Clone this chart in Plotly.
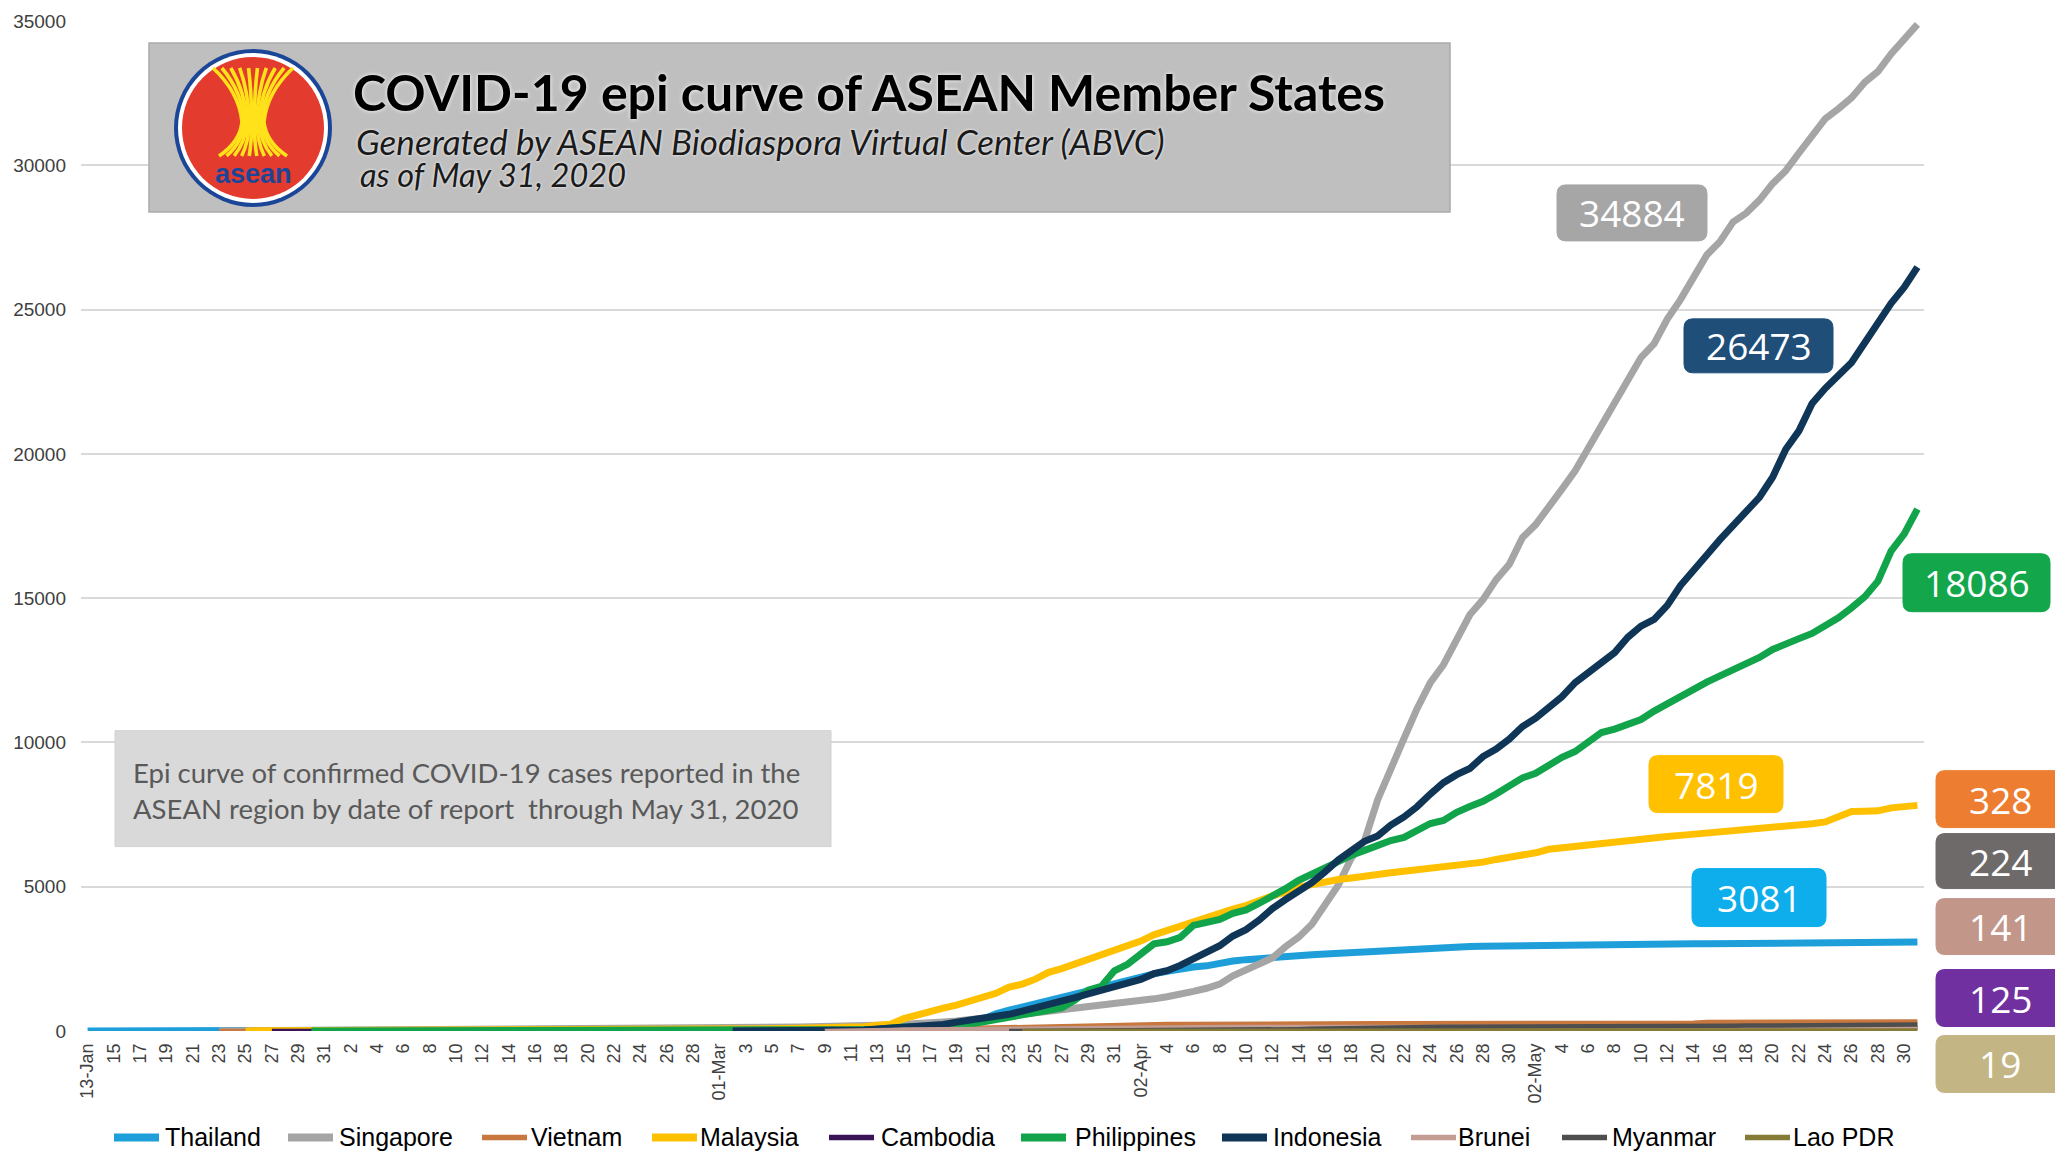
import plotly.graph_objects as go
import pandas as pd

W, H = 2055, 1154
L_PX, R_PX, T_PX, B_PX = 81, 1924, 21, 1031.5

dates = pd.date_range("2020-01-13", "2020-05-31", freq="D")
month_label_dates = ["2020-01-13", "2020-03-01", "2020-04-02", "2020-05-02"]

N = None
thailand = [
    1, 1, 1, 1, 2, 2, 2, 2, 2, 4, 4, 5, 7, 8, 8, 14, 14, 14, 19,
    19, 19, 19, 25, 25, 25, 25, 32, 32, 32, 33, 33, 33, 33, 34, 34, 35, 35, 35, 35, 35, 35, 35, 35, 37, 40, 40, 41, 42,
    42, 43, 43, 43, 47, 48, 50, 50, 50, 53, 59, 70, 75, 82, 114, 147, 177, 212, 272, 322, 411, 599, 721, 827, 934, 1045, 1136, 1245, 1388, 1524, 1651,
    1771, 1875, 1978, 2067, 2169, 2220, 2258, 2369, 2423, 2473, 2518, 2551, 2579, 2613, 2643, 2672, 2700, 2733, 2765, 2792, 2811, 2826, 2839, 2854, 2907, 2922, 2931, 2938, 2947, 2954,
    2960, 2966, 2969, 2987, 2988, 2989, 2992, 3000, 3004, 3009, 3015, 3017, 3018, 3025, 3025, 3025, 3026, 3027, 3031, 3033, 3037, 3037, 3040, 3042, 3042, 3045, 3054, 3065, 3076, 3077, 3081,
]
singapore = [N] * 10 + [
    1, 3, 3, 4, 5, 7, 7, 10, 13,
    16, 18, 18, 24, 28, 28, 30, 33, 40, 45, 47, 50, 58, 67, 72, 75, 77, 81, 84, 84, 85, 89, 89, 89, 91, 93, 96, 98, 102,
    106, 108, 110, 110, 117, 130, 138, 150, 150, 160, 178, 178, 200, 212, 226, 243, 266, 313, 345, 385, 432, 455, 509, 558, 631, 683, 732, 802, 844, 879, 926,
    1000, 1049, 1114, 1189, 1309, 1375, 1481, 1623, 1910, 2108, 2299, 2532, 2918, 3252, 3699, 4427, 5050, 5992, 6588, 8014, 9125, 10141, 11178, 12075, 12693, 13624, 14423, 14951, 15641, 16169,
    17101, 17548, 18205, 18778, 19410, 20198, 20939, 21707, 22460, 23336, 23822, 24671, 25346, 26098, 26891, 27356, 28038, 28343, 28794, 29364, 29812, 30426, 31068, 31616, 31960, 32343, 32876, 33249, 33860, 34366, 34884,
]
vietnam = [N] * 10 + [
    2, 2, 2, 2, 2, 2, 2, 2, 2,
    6, 8, 8, 10, 10, 12, 13, 13, 14, 15, 15, 15, 16, 16, 16, 16, 16, 16, 16, 16, 16, 16, 16, 16, 16, 16, 16, 16, 16,
    16, 16, 16, 16, 16, 17, 18, 30, 31, 35, 38, 39, 47, 53, 56, 61, 66, 75, 85, 91, 94, 113, 123, 134, 141, 153, 163, 174, 188, 203, 212,
    218, 233, 237, 240, 241, 245, 249, 251, 255, 257, 258, 262, 265, 265, 267, 268, 268, 268, 268, 268, 268, 268, 268, 268, 270, 270, 270, 270, 270, 270,
    270, 271, 271, 271, 271, 271, 288, 288, 288, 288, 288, 288, 288, 288, 312, 314, 318, 320, 324, 324, 324, 324, 325, 325, 325, 326, 327, 327, 328, 328, 328,
]
malaysia = [N] * 12 + [
    3, 4, 4, 4, 7, 8, 8,
    8, 8, 8, 10, 12, 12, 14, 16, 16, 18, 18, 18, 19, 19, 22, 22, 22, 22, 22, 22, 22, 22, 22, 22, 22, 22, 23, 25, 25,
    29, 29, 36, 50, 50, 83, 93, 99, 117, 129, 149, 149, 197, 238, 428, 566, 673, 790, 900, 1030, 1183, 1306, 1518, 1624, 1796, 2031, 2161, 2320, 2470, 2626, 2766,
    2908, 3116, 3333, 3483, 3662, 3793, 3963, 4119, 4228, 4346, 4530, 4683, 4817, 4987, 5072, 5182, 5251, 5305, 5389, 5425, 5482, 5532, 5603, 5691, 5742, 5780, 5820, 5851, 5945, 6002,
    6071, 6176, 6298, 6353, 6383, 6428, 6467, 6535, 6589, 6656, 6726, 6742, 6779, 6819, 6855, 6872, 6894, 6941, 6978, 7009, 7059, 7137, 7185, 7245, 7417, 7604, 7619, 7629, 7732, 7762, 7819,
]
cambodia = [N] * 14 + [
    1, 1, 1, 1, 1,
    1, 1, 1, 1, 1, 1, 1, 1, 1, 1, 1, 1, 1, 1, 1, 1, 1, 1, 1, 1, 1, 1, 1, 1, 1, 1, 1, 1, 1,
    1, 1, 1, 1, 1, 1, 2, 2, 2, 3, 3, 5, 5, 7, 12, 24, 33, 35, 37, 51, 53, 84, 87, 91, 96, 96, 99, 103, 103, 107, 109,
    109, 110, 114, 114, 114, 115, 117, 117, 117, 119, 120, 120, 122, 122, 122, 122, 122, 122, 122, 122, 122, 122, 122, 122, 122, 122, 122, 122, 122, 122,
    122, 122, 122, 122, 122, 122, 122, 122, 122, 122, 122, 122, 122, 122, 122, 122, 122, 122, 122, 124, 124, 124, 124, 124, 124, 124, 124, 124, 124, 124, 125,
]
philippines = [N] * 17 + [
    1, 1,
    1, 2, 2, 2, 3, 3, 3, 3, 3, 3, 3, 3, 3, 3, 3, 3, 3, 3, 3, 3, 3, 3, 3, 3, 3, 3, 3, 3, 3,
    3, 3, 3, 3, 3, 5, 6, 10, 20, 33, 49, 52, 64, 111, 140, 142, 187, 202, 217, 230, 307, 380, 462, 552, 636, 707, 803, 1075, 1418, 1546, 2084,
    2311, 2633, 3018, 3094, 3246, 3660, 3764, 3870, 4076, 4195, 4428, 4648, 4932, 5223, 5453, 5660, 5878, 6087, 6259, 6459, 6599, 6710, 6981, 7192, 7294, 7579, 7777, 7958, 8212, 8488,
    8772, 8928, 9223, 9485, 9684, 10004, 10343, 10463, 10610, 10794, 11086, 11350, 11618, 11876, 12091, 12305, 12513, 12718, 12942, 13221, 13434, 13597, 13777, 14035, 14319, 14669, 15049, 15588, 16634, 17224, 18086,
]
indonesia = [N] * 49 + [
    2, 2, 2, 2, 4, 4, 6, 19, 27, 34, 34, 69, 96, 117, 134, 172, 227, 309, 369, 450, 514, 579, 686, 790, 893, 1046, 1155, 1285, 1414, 1528,
    1677, 1790, 1986, 2092, 2273, 2491, 2738, 2956, 3293, 3512, 3842, 4241, 4557, 4839, 5136, 5516, 5923, 6248, 6575, 6760, 7135, 7418, 7775, 8211, 8607, 8882, 9096, 9511, 9771, 10118,
    10551, 10843, 11192, 11587, 12071, 12438, 12776, 13112, 13645, 14032, 14265, 14749, 15438, 16006, 16496, 17025, 17514, 18010, 18496, 19189, 20162, 20796, 21745, 22271, 22750, 23165, 23851, 24538, 25216, 25773, 26473,
]
brunei = [N] * 56 + [
    1, 1, 6, 11, 25, 37, 50, 54, 56, 68, 73, 78, 83, 88, 91, 104, 109, 114, 115, 120, 126, 127, 129,
    131, 133, 134, 135, 135, 135, 135, 135, 135, 136, 136, 136, 136, 136, 136, 136, 136, 137, 138, 138, 138, 138, 138, 138, 138, 138, 138, 138, 138, 138,
    138, 138, 138, 138, 138, 138, 138, 138, 138, 138, 138, 141, 141, 141, 141, 141, 141, 141, 141, 141, 141, 141, 141, 141, 141, 141, 141, 141, 141, 141, 141,
]
myanmar = [N] * 70 + [
    2, 3, 3, 5, 8, 8, 10, 14, 15,
    15, 20, 20, 21, 21, 22, 22, 22, 23, 27, 28, 39, 41, 62, 74, 85, 88, 98, 111, 119, 121, 127, 139, 144, 144, 146, 146, 146, 150, 151,
    151, 155, 161, 161, 161, 161, 171, 176, 177, 178, 180, 180, 181, 182, 182, 184, 184, 187, 191, 193, 199, 199, 201, 201, 201, 203, 206, 206, 207, 224, 224,
]
lao = [N] * 71 + [
    2, 3, 6, 6, 8, 8, 9, 10,
    10, 10, 11, 11, 12, 12, 15, 16, 16, 16, 19, 19, 19, 19, 19, 19, 19, 19, 19, 19, 19, 19, 19, 19, 19, 19, 19, 19, 19, 19,
    19, 19, 19, 19, 19, 19, 19, 19, 19, 19, 19, 19, 19, 19, 19, 19, 19, 19, 19, 19, 19, 19, 19, 19, 19, 19, 19, 19, 19, 19, 19,
]

countries = ["Thailand", "Singapore", "Vietnam", "Malaysia", "Cambodia",
             "Philippines", "Indonesia", "Brunei", "Myanmar", "Lao PDR"]
series = [thailand, singapore, vietnam, malaysia, cambodia,
          philippines, indonesia, brunei, myanmar, lao]
line_colors = ["#1F9FDA", "#A5A5A5", "#C8773E", "#FFC000", "#3A1457",
               "#12A44A", "#0F3557", "#C39D93", "#4E4E4E", "#857A36"]
line_widths = [7, 7, 4.5, 7, 4.5, 7, 7, 4.5, 4.5, 4.5]

final_labels = ["34884", "26473", "18086", "7819", "3081", "328", "224", "141", "125", "19"]
label_colors = ["#A6A6A6", "#1F4E79", "#13A64B", "#FFC000", "#0DAEEB",
                "#ED7D31", "#6F6A6A", "#C3968A", "#7030A0", "#C4B584"]

for s in series:
    assert len(s) == len(dates), len(s)


def px(x):
    return (x - L_PX) / (R_PX - L_PX)


def py(y):
    return (B_PX - y) / (B_PX - T_PX)


def rrect(x0, x1, y0, y1, r):
    pts = [
        f"M {px(x0 + r)},{py(y0)}",
        f"L {px(x1 - r)},{py(y0)}",
        f"Q {px(x1)},{py(y0)} {px(x1)},{py(y0 + r)}",
        f"L {px(x1)},{py(y1 - r)}",
        f"Q {px(x1)},{py(y1)} {px(x1 - r)},{py(y1)}",
        f"L {px(x0 + r)},{py(y1)}",
        f"Q {px(x0)},{py(y1)} {px(x0)},{py(y1 - r)}",
        f"L {px(x0)},{py(y0 + r)}",
        f"Q {px(x0)},{py(y0)} {px(x0 + r)},{py(y0)}",
        "Z",
    ]
    return " ".join(pts)


x_idx = list(range(len(dates)))
fig = go.Figure()
for name, s, c, w in zip(countries, series, line_colors, line_widths):
    fig.add_trace(go.Scatter(x=x_idx, y=s, mode="lines", name=name, showlegend=False,
                             line=dict(color=c, width=w), connectgaps=False))

# tick labels every 2 days
month_set = set(pd.to_datetime(month_label_dates))
tickvals, ticktext = [], []
for i in range(0, len(dates), 2):
    d = dates[i]
    tickvals.append(i)
    ticktext.append(d.strftime("%d-%b") if d in month_set else str(d.day))

shapes = []
annotations = []


def text(x, y, t, size, color, family="Liberation Sans", xanchor="center", align="center", **kw):
    annotations.append(dict(xref="paper", yref="paper", x=px(x), y=py(y), text=t,
                            showarrow=False, xanchor=xanchor, yanchor="middle", align=align,
                            font=dict(family=family, size=size, color=color, **kw)))


# title box
shapes.append(dict(type="rect", xref="paper", yref="paper",
                   x0=px(149), x1=px(1450), y0=py(212), y1=py(43),
                   fillcolor="#BFBFBF", line=dict(color="#ABABAB", width=1.5), layer="above"))
# note box
shapes.append(dict(type="rect", xref="paper", yref="paper",
                   x0=px(115), x1=px(831), y0=py(847), y1=py(731),
                   fillcolor="#D9D9D9", line=dict(color="#D2D2D2", width=1), layer="above"))

# ASEAN logo
cx, cy = 253, 128
for r, col in [(79, "#1B4698"), (75, "#FFFFFF"), (71, "#E33B2E")]:
    shapes.append(dict(type="circle", xref="paper", yref="paper",
                       x0=px(cx - r), x1=px(cx + r), y0=py(cy + r), y1=py(cy - r),
                       fillcolor=col, line=dict(width=0), layer="above"))
y_top, y_waist, y_bot = cy - 60, cy - 6, cy + 28
for k in range(10):
    t = (k - 4.5) / 4.5
    path = (f"M {px(cx + t * 40)},{py(y_top)} "
            f"Q {px(cx + t * 14)},{py(y_waist - 30)} {px(cx + t * 11)},{py(y_waist)} "
            f"Q {px(cx + t * 13)},{py(y_waist + 20)} {px(cx + t * 34)},{py(y_bot)}")
    shapes.append(dict(type="path", xref="paper", yref="paper", path=path,
                       line=dict(color="#FFE21A", width=3.6), layer="above"))
text(cx, cy + 46, "<b>asean</b>", 27, "#1B4698", family="Liberation Sans")

# title texts
text(351, 92, "<b>COVID-19 epi curve of ASEAN Member States</b>", 50, "#000000",
     family="Lato", xanchor="left", shadow="0px 0px 4px #FFFFFF")
text(354, 141, "<i>Generated by ASEAN Biodiaspora Virtual Center (ABVC)</i>", 35, "#1A1A1A",
     family="Lato", xanchor="left", shadow="0px 0px 3px #FFFFFF")
text(358, 175, "<i>as of May 31, 2020</i>", 32.5, "#1A1A1A",
     family="Lato", xanchor="left", shadow="0px 0px 3px #FFFFFF")
# note text
text(131, 791, "Epi curve of confirmed COVID-19 cases reported in the<br>ASEAN region by date of report  through May 31, 2020",
     27.5, "#595959", family="Lato", xanchor="left", align="left")

# final value label boxes
boxes = [(1557, 1707, 185, 241), (1684, 1833, 319, 373), (1903, 2050, 554, 612),
         (1649, 1783, 756, 813), (1692, 1826, 869, 927), (1936, 2068, 771, 828),
         (1936, 2068, 834, 889), (1936, 2068, 899, 955), (1936, 2068, 970, 1027),
         (1936, 2068, 1036, 1093)]
for (x0, x1, y0, y1), txt, col in zip(boxes, final_labels, label_colors):
    shapes.append(dict(type="path", xref="paper", yref="paper", path=rrect(x0, x1, y0, y1, 9),
                       fillcolor=col, line=dict(color=col, width=1), layer="above"))
    tx = (x0 + x1) / 2 if x1 < 2055 else 2000
    text(tx, (y0 + y1) / 2, txt, 37, "#FFFFFF", family="Open Sans")

# manual legend (swatch start x, text start x)
legend_pos = [(114, 163), (288, 337), (482, 529), (652, 698), (829, 879),
              (1021, 1073), (1222, 1271), (1411, 1456), (1562, 1610), (1745, 1791)]
ly = 1138
for (sx, tx), name, c, w in zip(legend_pos, countries, line_colors, line_widths):
    shapes.append(dict(type="line", xref="paper", yref="paper",
                       x0=px(sx), x1=px(sx + 45), y0=py(ly), y1=py(ly),
                       line=dict(color=c, width=w + 1), layer="above"))
    text(tx, ly, name, 25, "#000000", family="Liberation Sans", xanchor="left")

fig.update_layout(
    width=W, height=H,
    margin=dict(l=L_PX, r=W - R_PX, t=T_PX, b=H - B_PX, autoexpand=False),
    paper_bgcolor="#FFFFFF", plot_bgcolor="#FFFFFF",
    showlegend=False,
    xaxis=dict(range=[-0.5, len(dates) - 0.5], tickvals=tickvals, ticktext=ticktext,
               tickangle=-90, showgrid=False, zeroline=False, showline=False, ticks="",
               tickfont=dict(family="Liberation Sans", size=18, color="#404040"),
               ticklabelstandoff=8, automargin=False),
    yaxis=dict(range=[0, 35000], dtick=5000, tickformat="d", showgrid=True,
               gridcolor="#D9D9D9", gridwidth=1.5,
               zeroline=False, showline=False, ticks="",
               tickfont=dict(family="Liberation Sans", size=19, color="#404040"),
               ticklabelstandoff=14, automargin=False),
    shapes=shapes, annotations=annotations,
)

fig.write_html("out.html", config={"displayModeBar": False},
               post_script="document.body.style.margin='0px';document.body.style.overflow='hidden';")
